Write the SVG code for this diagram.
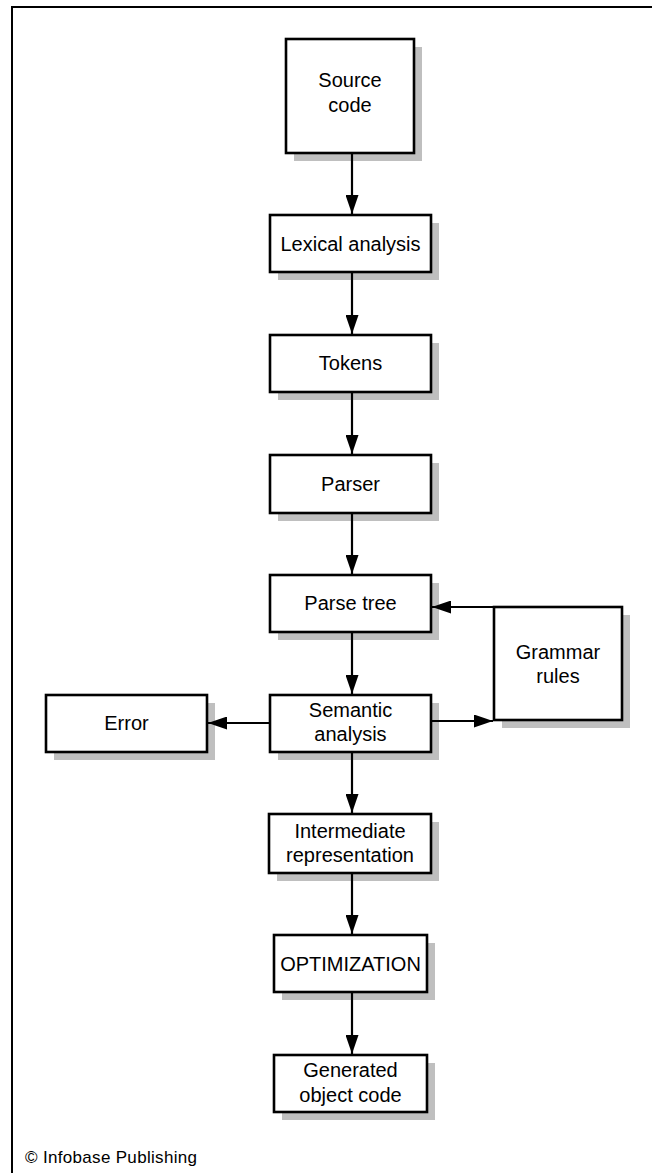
<svg xmlns="http://www.w3.org/2000/svg" width="652" height="1173" viewBox="0 0 652 1173">
<style>
.sh{fill:#bfbfbf;stroke:none}
.bx{fill:#fff;stroke:#000;stroke-width:2.6}
.t{font-family:"Liberation Sans",Arial,sans-serif;font-size:20px;fill:#000;text-anchor:middle}
.c{fill:none;stroke:#000;stroke-width:2.2}
.frame{fill:none;stroke:#000;stroke-width:2}
.cr{font-family:"Liberation Sans",Arial,sans-serif;font-size:17px;fill:#000}
</style>
<defs>
<marker id="ah" markerUnits="userSpaceOnUse" markerWidth="19" markerHeight="13" refX="19" refY="6.5" orient="auto" viewBox="0 0 19 13">
<path d="M0,0 L19,6.5 L0,13 z" fill="#000"/>
</marker>
</defs>
<rect width="652" height="1173" fill="#fff"/>
<path class="frame" d="M12,1173 V7 H652"/>

<g id="source">
<rect class="sh" x="294" y="47" width="128" height="114"/>
<rect class="bx" x="286" y="39" width="128" height="114"/>
<text class="t" x="350" y="87">Source</text>
<text class="t" x="350" y="112">code</text>
</g>
<g id="lexical">
<rect class="sh" x="278" y="223" width="161" height="57"/>
<rect class="bx" x="270" y="215" width="161" height="57"/>
<text class="t" x="350.5" y="251">Lexical analysis</text>
</g>
<g id="tokens">
<rect class="sh" x="278" y="343" width="161" height="57"/>
<rect class="bx" x="270" y="335" width="161" height="57"/>
<text class="t" x="350.5" y="370">Tokens</text>
</g>
<g id="parser">
<rect class="sh" x="278" y="463" width="161" height="58"/>
<rect class="bx" x="270" y="455" width="161" height="58"/>
<text class="t" x="350.5" y="491">Parser</text>
</g>
<g id="parsetree">
<rect class="sh" x="278" y="583" width="161" height="57"/>
<rect class="bx" x="270" y="575" width="161" height="57"/>
<text class="t" x="350.5" y="610">Parse tree</text>
</g>
<g id="grammar">
<rect class="sh" x="502" y="615" width="128" height="113"/>
<rect class="bx" x="494" y="607" width="128" height="113"/>
<text class="t" x="558" y="659">Grammar</text>
<text class="t" x="558" y="683">rules</text>
</g>
<g id="semantic">
<rect class="sh" x="278" y="703" width="161" height="57"/>
<rect class="bx" x="270" y="695" width="161" height="57"/>
<text class="t" x="350.5" y="717">Semantic</text>
<text class="t" x="350.5" y="741">analysis</text>
</g>
<g id="error">
<rect class="sh" x="54" y="703" width="161" height="57"/>
<rect class="bx" x="46" y="695" width="161" height="57"/>
<text class="t" x="126.5" y="730">Error</text>
</g>
<g id="intermediate">
<rect class="sh" x="277" y="822" width="162" height="59"/>
<rect class="bx" x="269" y="814" width="162" height="59"/>
<text class="t" x="350" y="838">Intermediate</text>
<text class="t" x="350" y="862">representation</text>
</g>
<g id="optimization">
<rect class="sh" x="282" y="943" width="153" height="57"/>
<rect class="bx" x="274" y="935" width="153" height="57"/>
<text class="t" x="350.5" y="971">OPTIMIZATION</text>
</g>
<g id="generated">
<rect class="sh" x="282" y="1063" width="153" height="57"/>
<rect class="bx" x="274" y="1055" width="153" height="57"/>
<text class="t" x="350.5" y="1077">Generated</text>
<text class="t" x="350.5" y="1102">object code</text>
</g>

<g id="connectors">
<path class="c" marker-end="url(#ah)" d="M352,154 V214"/>
<path class="c" marker-end="url(#ah)" d="M352,273 V334"/>
<path class="c" marker-end="url(#ah)" d="M352,393 V454"/>
<path class="c" marker-end="url(#ah)" d="M352,514 V574"/>
<path class="c" marker-end="url(#ah)" d="M352,633 V694"/>
<path class="c" marker-end="url(#ah)" d="M352,753 V813"/>
<path class="c" marker-end="url(#ah)" d="M352,874 V934"/>
<path class="c" marker-end="url(#ah)" d="M352,993 V1054"/>
<path class="c" marker-end="url(#ah)" d="M494,607 H432"/>
<path class="c" marker-end="url(#ah)" d="M432,721 H493"/>
<path class="c" marker-end="url(#ah)" d="M269,723 H208"/>
</g>

<text class="cr" x="25" y="1163" textLength="172" lengthAdjust="spacing">© Infobase Publishing</text>
</svg>
